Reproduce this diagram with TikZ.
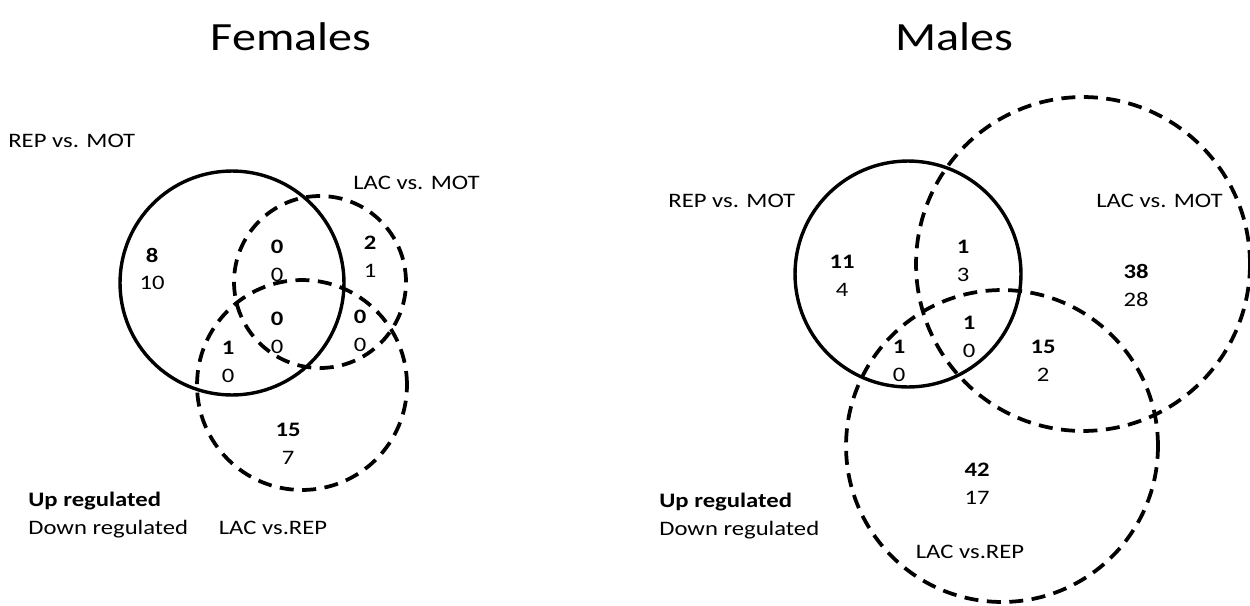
\documentclass[tikz,border=0pt]{standalone}
\usepackage{fontspec}
\setmainfont{Carlito}[FakeStretch=1.2]

\begin{document}
\begin{tikzpicture}
  [x=0.02cm, y=-0.02cm,
  	every node/.style={inner sep=0pt,align=center,
  		font=\fontsize{11.7}{15.9}\selectfont},
  	title/.style={font=\fontsize{22.8}{27}\selectfont},
  	lbl/.style={anchor=base west},
  	solidset/.style={line width=0.068cm},
  	dashset/.style={line width=0.075cm,dash pattern=on 0.28cm off 0.17cm}
  ]
  \useasboundingbox (0,0) rectangle (1250,605);

  % Females
  \node [title,anchor=base] (ft) at (291,51) {Females};
  \node [lbl] (fa) at (8,147) {REP vs. MOT};
  \node [lbl] (fb) at (353,189) {LAC vs. MOT};
  \node [anchor=base] (fc) at (273,534) {LAC vs.REP};
  \node [lbl] (fu) at (28,506) {\textbf{Up regulated}};
  \node [lbl] (fd) at (28,534) {Down regulated};
  \draw [solidset] (232,283) circle [radius=2.24cm];
  \draw [dashset] (320,282) circle [radius=1.72cm];
  \draw [dashset] (302,385) circle [radius=2.1cm];
  \foreach \x/\y/\up/\dn [count=\i] in {152/269/8/10,277/260.5/0/0,370/257/2/1,
      277/332.5/0/0,360/331/0/0,228/362/1/0,288/444/15/7}
    \node (f\i) at (\x,\y) {\textbf{\up}\\\dn};

  % Males
  \node [title,anchor=base] (mt) at (954,51) {Males};
  \node [lbl] (ma) at (668,207) {REP vs. MOT};
  \node [lbl] (mb) at (1096,207) {LAC vs. MOT};
  \node [anchor=base] (mc) at (970,558) {LAC vs.REP};
  \node [lbl] (mu) at (659,507) {\textbf{Up regulated}};
  \node [lbl] (md) at (659,535) {Down regulated};
  \draw [solidset] (908,274) circle [radius=2.26cm];
  \draw [dashset] (1083,264) circle [radius=3.34cm];
  \draw [dashset] (1002,446) circle [radius=3.12cm];
  \foreach \x/\y/\up/\dn [count=\i] in {842/276/11/4,963/260.5/1/3,969/337/1/0,
      899/360.5/1/0,1043/360.5/15/2,1136/285.5/38/28,977/483.5/42/17}
    \node (m\i) at (\x,\y) {\textbf{\up}\\\dn};
\end{tikzpicture}
\end{document}
